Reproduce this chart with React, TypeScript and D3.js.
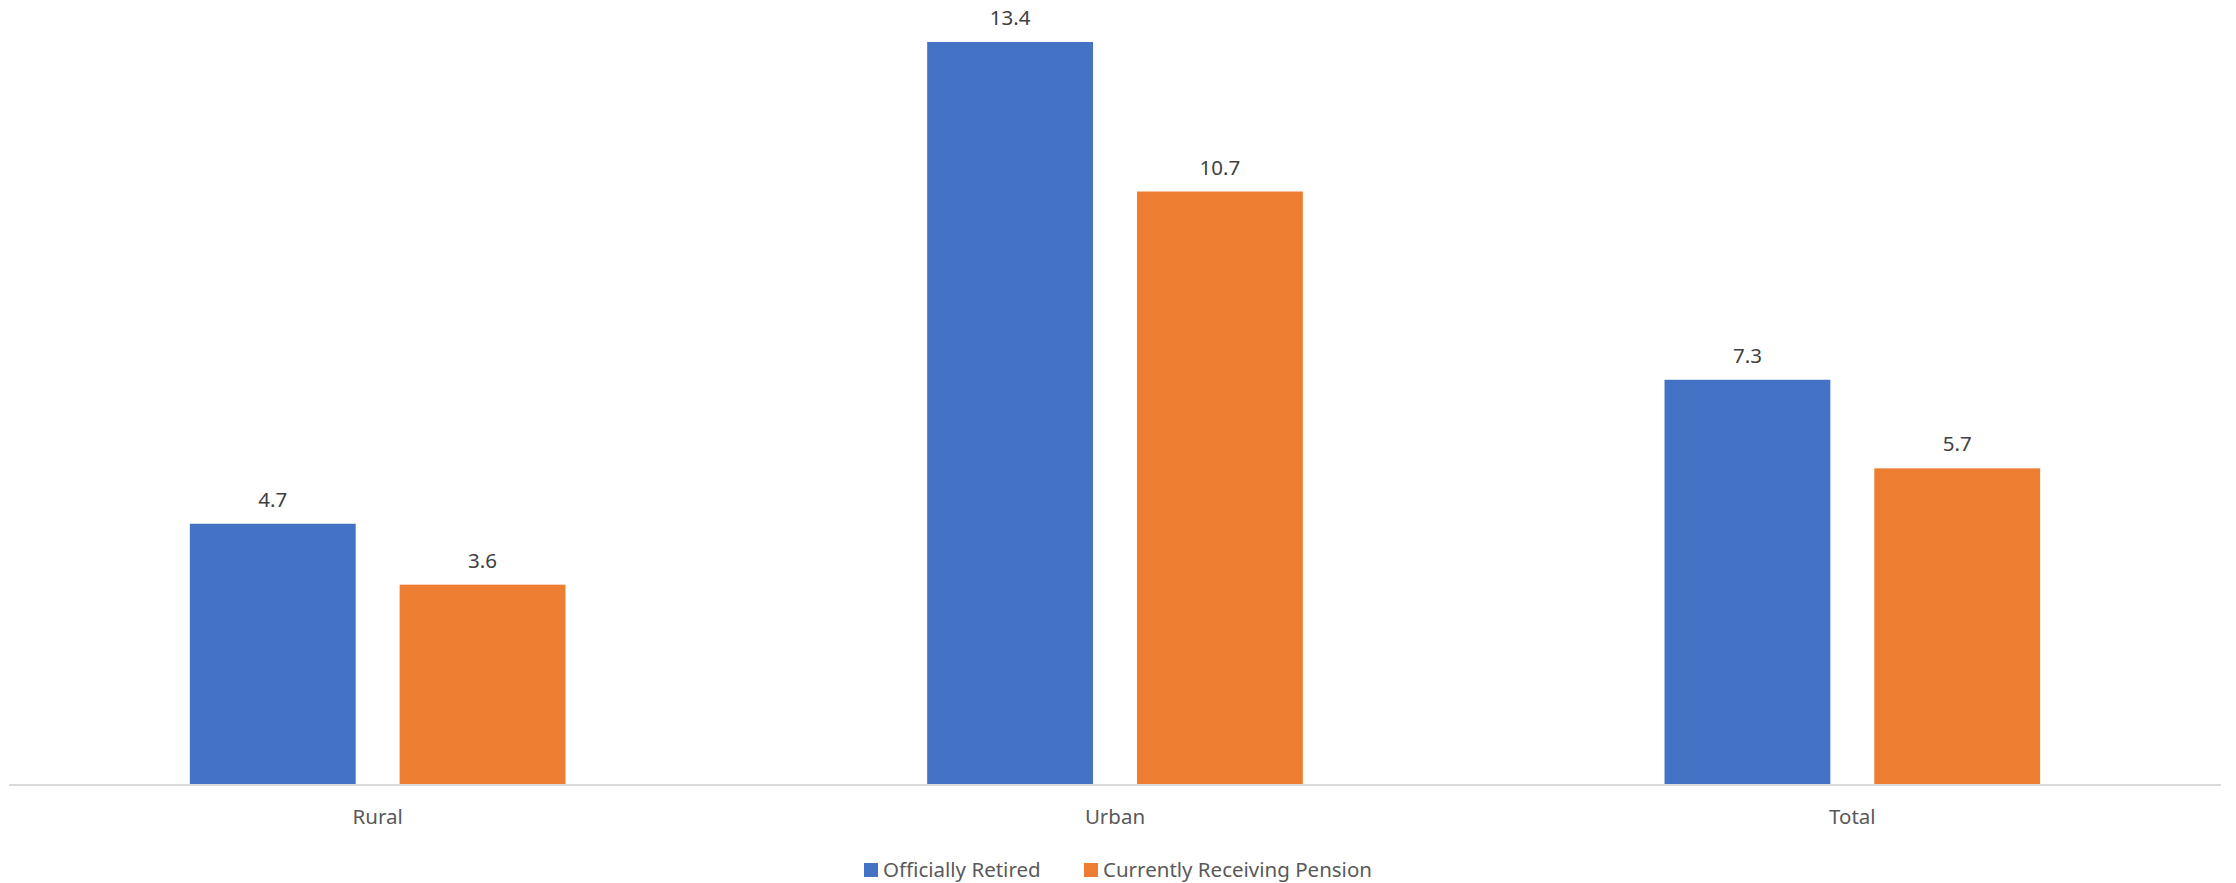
import React from "react";
import * as d3 from "d3";

const categories = ["Rural", "Urban", "Total"];
const seriesNames = ["Officially Retired", "Currently Receiving Pension"];
const officiallyRetired = [4.7, 13.4, 7.3];
const receivingPension = [3.6, 10.7, 5.7];
const seriesColors = ["#4472C4", "#ED7D31"];

const W = 2236;
const H = 883;
const FONT = "'Noto Sans', 'Open Sans', sans-serif";

export default function App() {
  const values = [officiallyRetired, receivingPension];
  const x0 = d3.scaleBand<string>().domain(categories).range([9, 2221]).paddingInner(0).paddingOuter(0);
  const x1 = d3
    .scaleBand<string>()
    .domain(seriesNames)
    .range([0, x0.bandwidth()])
    .paddingInner(0.2095)
    .paddingOuter(0.862);
  const y = d3.scaleLinear().domain([0, 13.4]).range([784, 42]);

  const legendItems = [
    { name: seriesNames[0], x: 864, tx: 883 },
    { name: seriesNames[1], x: 1084, tx: 1103 },
  ];

  return (
    <svg
      width={W}
      height={H}
      style={{ position: "absolute", left: 0, top: 0, background: "#fff" }}
      fontFamily={FONT}
    >
      <rect x={0} y={0} width={W} height={H} fill="#fff" />
      {categories.map((c, ci) => (
        <g key={c} transform={`translate(${x0(c)},0)`}>
          {seriesNames.map((s, si) => {
            const v = values[si][ci];
            const bx = x1(s)!;
            const by = y(v);
            return (
              <g key={s}>
                <rect x={bx} y={by} width={x1.bandwidth()} height={y(0) - by} fill={seriesColors[si]} />
                <text
                  x={bx + x1.bandwidth() / 2}
                  y={by - 17}
                  textAnchor="middle"
                  fontSize={20.5}
                  fill="#404040"
                >
                  {v.toFixed(1)}
                </text>
              </g>
            );
          })}
          <text x={x0.bandwidth() / 2} y={824} textAnchor="middle" fontSize={20.5} fill="#595959">
            {c}
          </text>
        </g>
      ))}
      <line x1={9} x2={2221} y1={785} y2={785} stroke="#D9D9D9" strokeWidth={2} />
      {legendItems.map((it, i) => (
        <g key={it.name}>
          <rect x={it.x} y={863} width={14} height={14} fill={seriesColors[i]} />
          <text x={it.tx} y={877} fontSize={20.5} fill="#595959">
            {it.name}
          </text>
        </g>
      ))}
    </svg>
  );
}
